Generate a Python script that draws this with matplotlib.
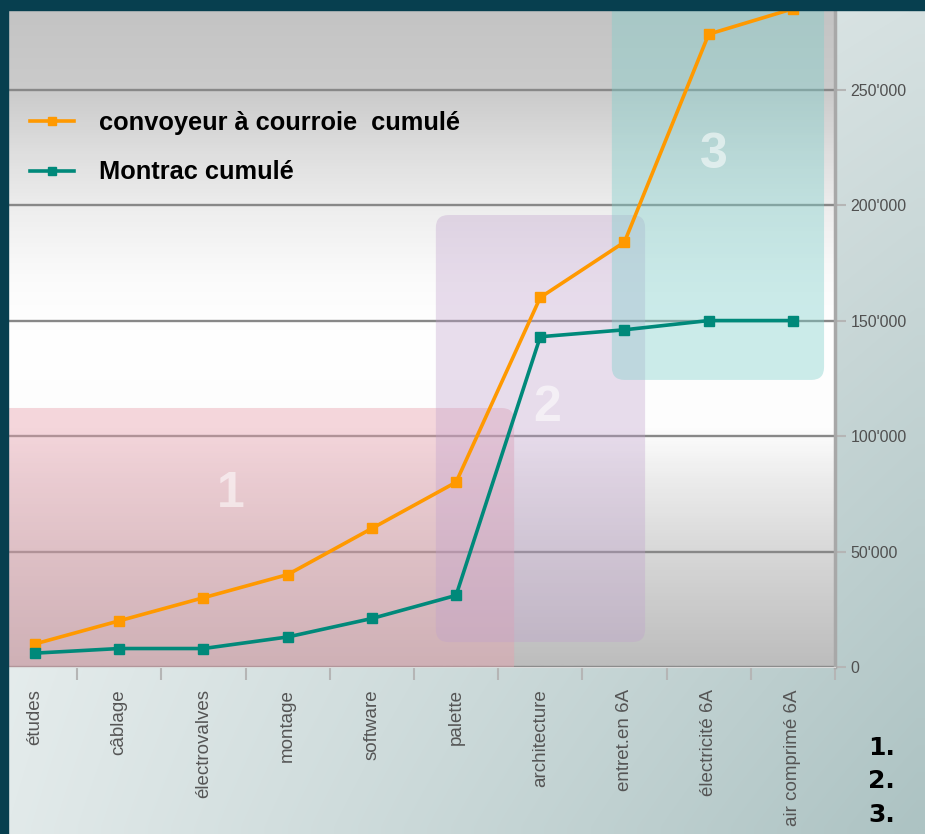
import numpy as np
import matplotlib.pyplot as plt
from matplotlib.patches import FancyBboxPatch, Rectangle
from matplotlib.colors import LinearSegmentedColormap, to_rgb
from matplotlib.lines import Line2D

plt.rcParams['font.family'] = ['Liberation Sans', 'DejaVu Sans']

categories = ['études', 'câblage', 'électrovalves', 'montage', 'software', 'palette',
              'architecture', 'entret.en 6A', 'électricité 6A', 'air comprimé 6A']
convoyeur = [10000, 20000, 30000, 40000, 60000, 80000, 160000, 184000, 274000, 285000]
montrac = [6000, 8000, 8000, 13000, 21000, 31000, 143000, 146000, 150000, 150000]
yTicks = [0, 50000, 100000, 150000, 200000, 250000]
phaseLabels = ['1', '2', '3']

W, H = 925, 834
fig = plt.figure(figsize=(W / 100, H / 100), dpi=100)

# background of the slide (bilinear gradient)
bg = fig.add_axes([0, 0, 1, 1], zorder=-10)
bg.axis('off')
tl, tr, bl, br = [np.array(to_rgb(c)) for c in ('#f0f4f4', '#d6e1e1', '#e2eaea', '#adc3c3')]
u = np.linspace(0, 1, 60)[None, :, None]
v = np.linspace(0, 1, 60)[:, None, None]
grad = (1 - v) * ((1 - u) * tl + u * tr) + v * ((1 - u) * bl + u * br)
bg.imshow(grad, extent=[0, 1, 0, 1], aspect='auto', interpolation='bilinear')
bg.set_xlim(0, 1)
bg.set_ylim(0, 1)

ax = fig.add_axes([0, 1 - 667 / H, 835 / W, 667 / H])
ax.patch.set_visible(False)

# vertical gradient of the plot wall
stops = [(0, '#c3c3c3'), (90, '#cbcbcb'), (150, '#dedede'), (210, '#eeeeee'),
         (280, '#fbfbfb'), (330, '#ffffff'), (430, '#fdfdfd'), (480, '#ececec'),
         (560, '#d6d6d6'), (620, '#c8c8c8'), (667, '#bdbdbd')]
cmap = LinearSegmentedColormap.from_list('wall', [(p / 667, c) for p, c in stops])
ax.imshow(np.linspace(0, 1, 300)[:, None], cmap=cmap, extent=[0, 1, 0, 1],
          transform=ax.transAxes, aspect='auto', origin='upper', zorder=0)

x = np.arange(len(categories))
ax.set_xlim(-0.416, 9.5)
ax.set_ylim(0, 288800)

ax.set_axisbelow(True)
ax.yaxis.grid(True, color='#888888', linewidth=1.7)
ax.xaxis.grid(False)

# rounded phase boxes (x span in categories, y span in values)
aspect = (50000 / 115.47) / (1 / 84.2)
phases = [(-0.8, 5.69, -4000, 112150, '#e8a0ad', 0.42, 2.32, 75000),
          (4.76, 7.245, 10800, 195700, '#c0a0cc', 0.35, 6.08, 112000),
          (6.85, 9.37, 124300, 310000, '#7fcfcb', 0.40, 8.06, 221700)]
for (x0, x1, y0, y1, col, al, tx, ty), lab in zip(phases, phaseLabels):
    box = FancyBboxPatch((x0, y0), x1 - x0, y1 - y0,
                         boxstyle='round,pad=0,rounding_size=0.15',
                         mutation_aspect=aspect, facecolor=col, edgecolor='none',
                         alpha=al, zorder=2)
    ax.add_patch(box)
    ax.text(tx, ty, lab, color='white', alpha=0.55, fontsize=36, fontweight='bold',
            ha='center', va='center', zorder=2.5)

ax.plot(x, convoyeur, color='#ff9900', linewidth=2.6, marker='s', markersize=7.5, zorder=4)
ax.plot(x, montrac, color='#00897a', linewidth=2.6, marker='s', markersize=7.5, zorder=4)

handles = [Line2D([], [], color='#ff9900', linewidth=2.6, marker='s', markersize=6),
           Line2D([], [], color='#00897a', linewidth=2.6, marker='s', markersize=6)]
ax.legend(handles, ['convoyeur à courroie  cumulé', 'Montrac cumulé'],
          loc='upper left', bbox_to_anchor=(30 / W, 1 - 111 / H),
          bbox_transform=fig.transFigure, frameon=False, numpoints=1,
          prop={'weight': 'bold', 'size': 18.3}, handlelength=1.75,
          handletextpad=0.95, labelspacing=1.0, borderpad=0, borderaxespad=0)

# axes styling
ax.yaxis.tick_right()
ax.set_yticks(yTicks)
ax.set_yticklabels([f'{v:,}'.replace(',', "'") for v in yTicks])
ax.tick_params(axis='y', right=True, length=8, width=1.5, color='#b5b5b5',
               labelsize=11.5, labelcolor='#505050', pad=3)
ax.set_xticks(x)
ax.set_xticklabels(categories, rotation=90, va='top', ha='center')
ax.tick_params(axis='x', length=0, labelsize=13.5, labelcolor='#555555', pad=16)
ax.set_xticks(np.arange(0.5, 10, 1), minor=True)
ax.tick_params(axis='x', which='minor', length=9, width=1.5, color='#b5b5b5')
for s in ('top', 'left'):
    ax.spines[s].set_visible(False)
ax.spines['bottom'].set_color('#dadada')
ax.spines['right'].set_color('#a8a8a8')
ax.spines['right'].set_linewidth(2.5)

# dark slide frame
fig.add_artist(Rectangle((0, 1 - 10 / H), 1, 10 / H, transform=fig.transFigure,
                         color='#073f4f', zorder=100))
fig.add_artist(Rectangle((0, 0), 8 / W, 1, transform=fig.transFigure,
                         color='#073f4f', zorder=100))

for lab, py in zip(['1.', '2.', '3.'], [748, 781, 815]):
    fig.text(868 / W, 1 - py / H, lab, fontsize=18, fontweight='bold',
             family='DejaVu Sans', va='center', ha='left', color='black')

fig.savefig('out.png', dpi=100)
